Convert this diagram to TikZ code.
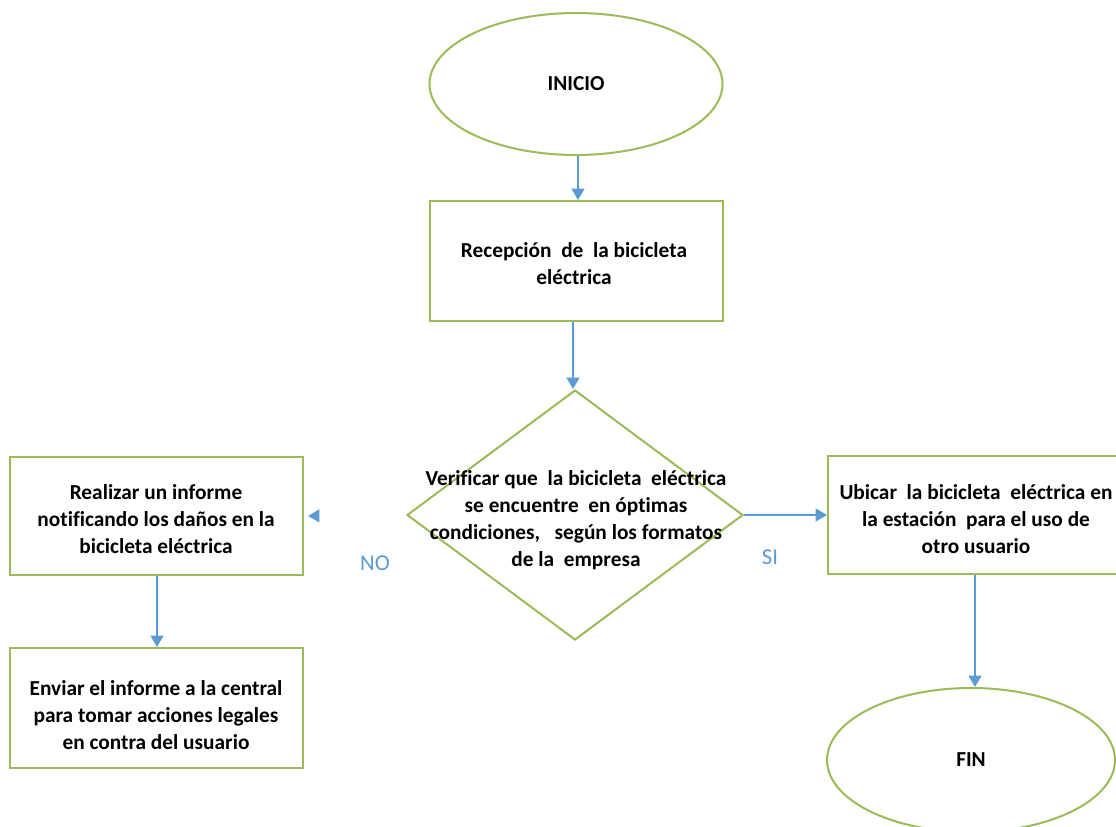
\documentclass[tikz,border=0pt]{standalone}
\usepackage{fontspec}
\setmainfont{Carlito}[Ligatures=NoCommon]
\usetikzlibrary{shapes.geometric,arrows.meta}

\definecolor{boxgreen}{HTML}{9BBB59}
\definecolor{flowblue}{HTML}{5B9BD5}

\tikzset{
  px/.style={x=0.75pt,y=-0.75pt},
  txt/.style={font=\fontsize{16pt}{20.3pt}\selectfont\bfseries, align=center, inner sep=0pt},
  stepbox/.style={draw=boxgreen, line width=1.5pt, fill=white, rectangle, inner sep=0pt},
  terminal/.style={draw=boxgreen, line width=1.5pt, fill=white, ellipse, inner sep=0pt},
  decision/.style={draw=boxgreen, line width=1.5pt, fill=white, diamond, inner sep=0pt},
  flow/.style={draw=flowblue, line width=1.6pt, -{Triangle[length=8.5pt,width=9.5pt]}},
  branch/.style={font=\fontsize{17pt}{20pt}\selectfont, text=flowblue, inner sep=0pt},
}

\begin{document}
\begin{tikzpicture}[px]
\useasboundingbox (0,0) rectangle (1116,826);
\fill[white] (0,0) rectangle (1116,826);

% start terminal
\node[terminal, minimum width=293*0.75pt, minimum height=142*0.75pt] (inicio) at (576,84) {};
\node[txt] (tinicio) at (inicio.center) {INICIO};

% reception step
\node[stepbox, minimum width=293*0.75pt, minimum height=120*0.75pt] (recep) at (576.5,261) {};
\node[txt] (trecep) at (574,264) {Recepción \ de \ la bicicleta\\eléctrica};

% check decision
\node[decision, minimum width=336*0.75pt, minimum height=250*0.75pt] (verif) at (575,515) {};
\node[txt] (tverif) at (576,520) {Verificar que \ la bicicleta \ eléctrica\\se encuentre \ en óptimas\\condiciones, \ \ según los formatos\\de la \ empresa};

% SI branch
\node[stepbox, minimum width=300*0.75pt, minimum height=118*0.75pt, anchor=west] (ubicar) at (827,515) {};
\node[txt] (tubicar) at (976,519) {Ubicar \ la bicicleta \ eléctrica en\\la estación \ para el uso de\\otro usuario};

% end terminal
\node[terminal, minimum width=288*0.75pt, minimum height=144*0.75pt] (fin) at (971,760) {};
\node[txt] (tfin) at (fin.center) {FIN};

% NO branch
\node[stepbox, minimum width=293*0.75pt, minimum height=118*0.75pt] (informe) at (156.5,516) {};
\node[txt] (tinforme) at (156,519) {Realizar un informe\\notificando los daños en la\\bicicleta eléctrica};

\node[stepbox, minimum width=293*0.75pt, minimum height=120*0.75pt] (enviar) at (156.5,708) {};
\node[txt] (tenviar) at (156,715) {Enviar el informe a la central\\para tomar acciones legales\\en contra del usuario};

% branch labels
\node[branch] (lno) at (375,563) {NO};
\node[branch] (lsi) at (770,557) {SI};

% connectors
\draw[flow] (inicio.south -| 578,0) -- (recep.north -| 578,0);
\draw[flow] (recep.south -| 573,0) -- (verif.north -| 573,0);
\draw[flow] (verif.east) -- (ubicar.west);
\draw[flow] (ubicar.south -| 975,0) -- (fin.north -| 975,0);
\draw[flow] (informe.south -| 157,0) -- (enviar.north -| 157,0);
% NO connector: only its head shows
\draw[draw=white, line width=1.6pt, -{Triangle[length=8.5pt,width=9.5pt,color=flowblue]}, shorten >=3pt] (verif.west) -- (informe.east);
\end{tikzpicture}
\end{document}
